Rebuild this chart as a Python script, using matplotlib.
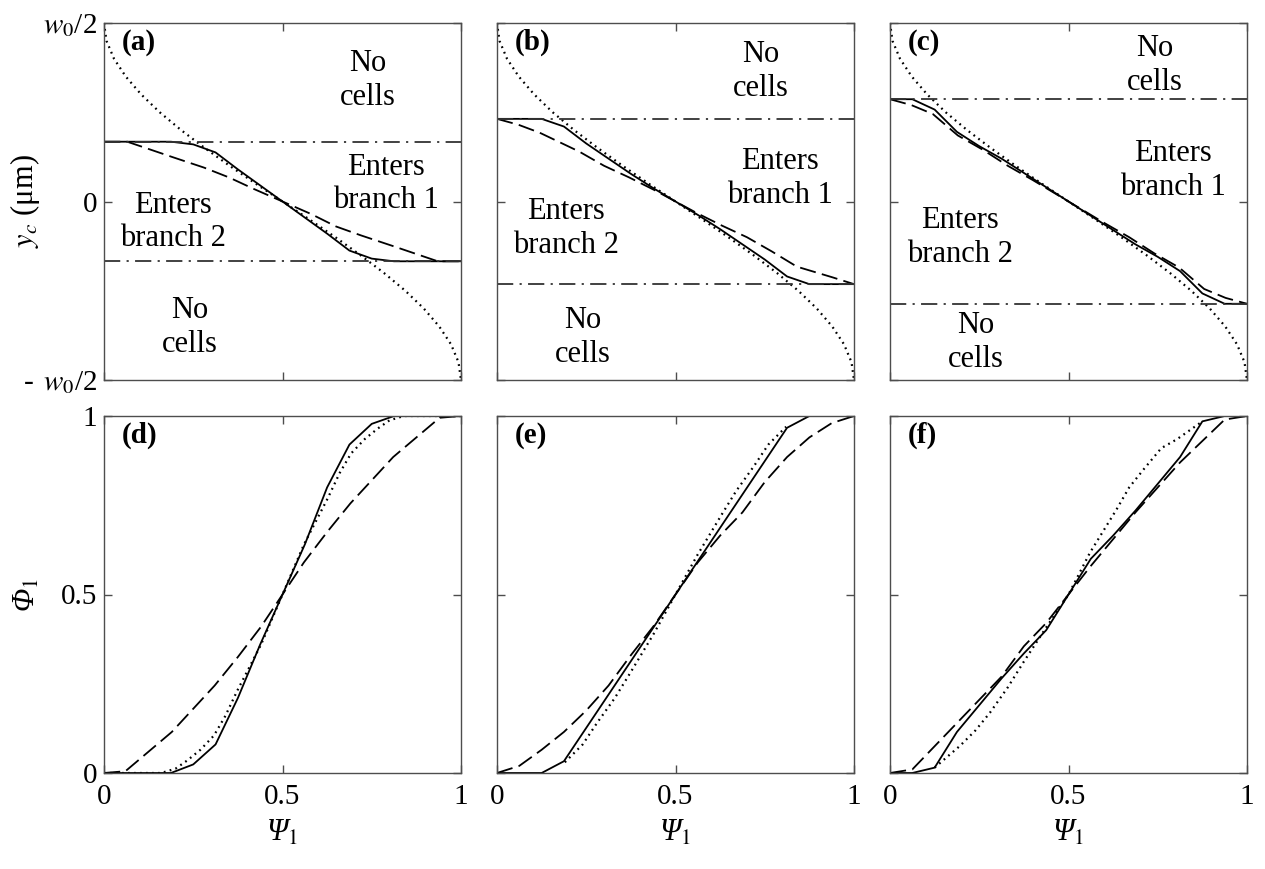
import numpy as np
import matplotlib
matplotlib.use("Agg")
import matplotlib.pyplot as plt

plt.rcParams['font.family'] = ['Liberation Serif', 'DejaVu Serif']
plt.rcParams['mathtext.fontset'] = 'stix'

# ---- top row: y_c (in units of w0/2) against Psi_1 ----
# parabolic (dotted) reference, same in all three panels
psi_dot = [0, 0.007, 0.028, 0.061, 0.104, 0.156, 0.216, 0.282, 0.352, 0.425, 0.5,
           0.575, 0.648, 0.718, 0.784, 0.844, 0.896, 0.939, 0.972, 0.993, 1]
yc_dot = [1, 0.9, 0.8, 0.7, 0.6, 0.5, 0.4, 0.3, 0.2, 0.1, 0,
          -0.1, -0.2, -0.3, -0.4, -0.5, -0.6, -0.7, -0.8, -0.9, -1]

# dash-dot limits for (a), (b), (c)
yc_limit = [0.335, 0.463, 0.573]

psi_solid_a = [0, 0.1875, 0.25, 0.3125, 0.375, 0.4375, 0.5, 0.5625, 0.625, 0.6875, 0.75, 0.8125, 1]
yc_solid_a = [0.335, 0.335, 0.32, 0.275, 0.18, 0.09, 0, -0.09, -0.18, -0.275, -0.32, -0.335, -0.335]
psi_dash_a = [0, 0.065, 0.19, 0.28, 0.35, 0.42, 0.5, 0.58, 0.65, 0.72, 0.81, 0.935, 1]
yc_dash_a = [0.335, 0.335, 0.25, 0.19, 0.135, 0.07, 0, -0.07, -0.14, -0.19, -0.25, -0.335, -0.335]

psi_solid_b = [0, 0.125, 0.1875, 0.25, 0.3125, 0.375, 0.4375, 0.5,
               0.5625, 0.625, 0.6875, 0.75, 0.8125, 0.875, 1]
yc_solid_b = [0.463, 0.463, 0.42, 0.325, 0.24, 0.155, 0.075, 0,
              -0.075, -0.155, -0.24, -0.325, -0.42, -0.463, -0.463]
psi_dash_b = [0, 0.06, 0.12, 0.23, 0.30, 0.37, 0.44, 0.5, 0.56, 0.63, 0.70, 0.77, 0.84, 0.94, 1]
yc_dash_b = [0.463, 0.43, 0.385, 0.28, 0.20, 0.135, 0.065, 0,
             -0.065, -0.135, -0.20, -0.28, -0.365, -0.425, -0.463]

psi_solid_c = [0, 0.0625, 0.125, 0.1875, 0.25, 0.3125, 0.375, 0.4375, 0.5,
               0.5625, 0.625, 0.6875, 0.75, 0.8125, 0.875, 0.9375, 1]
yc_solid_c = [0.573, 0.573, 0.515, 0.39, 0.31, 0.24, 0.16, 0.08, 0,
              -0.08, -0.16, -0.24, -0.31, -0.39, -0.515, -0.573, -0.573]
psi_dash_c = [0, 0.06, 0.12, 0.19, 0.26, 0.33, 0.40, 0.5, 0.60, 0.67, 0.74, 0.81, 0.88, 0.94, 1]
yc_dash_c = [0.573, 0.54, 0.49, 0.37, 0.29, 0.20, 0.12, 0,
             -0.12, -0.20, -0.29, -0.37, -0.49, -0.54, -0.573]

# ---- bottom row: Phi_1 against Psi_1 ----
psi_dot_d = [0, 0.16, 0.2, 0.233, 0.27, 0.308, 0.34, 0.373, 0.44, 0.5,
             0.56, 0.627, 0.66, 0.692, 0.73, 0.767, 0.8, 0.84, 1]
phi_dot_d = [0, 0, 0.012, 0.035, 0.065, 0.105, 0.16, 0.23, 0.36, 0.5,
             0.64, 0.77, 0.84, 0.895, 0.935, 0.965, 0.988, 1, 1]
psi_solid_d = [0, 0.1875, 0.25, 0.3125, 0.375, 0.4375, 0.5, 0.5625, 0.625, 0.6875, 0.75, 0.8125, 1]
phi_solid_d = [0, 0, 0.024, 0.08, 0.21, 0.36, 0.5, 0.64, 0.8, 0.92, 0.978, 1, 1]
psi_dash_d = [0, 0.06, 0.125, 0.19, 0.25, 0.31, 0.375, 0.44, 0.5,
              0.56, 0.625, 0.69, 0.75, 0.81, 0.875, 0.94, 1]
phi_dash_d = [0, 0.005, 0.06, 0.115, 0.18, 0.245, 0.325, 0.41, 0.5,
              0.59, 0.675, 0.755, 0.82, 0.885, 0.94, 0.995, 1]

psi_dot_e = [0.19, 0.24, 0.28, 0.33, 0.373, 0.439, 0.5, 0.561, 0.627, 0.67, 0.72, 0.76, 0.81]
phi_dot_e = [0.03, 0.08, 0.14, 0.21, 0.28, 0.39, 0.5, 0.61, 0.72, 0.79, 0.86, 0.92, 0.97]
psi_solid_e = [0, 0.125, 0.1875, 0.5, 0.8125, 0.875, 1]
phi_solid_e = [0, 0, 0.033, 0.5, 0.967, 1, 1]
psi_dash_e = [0, 0.0625, 0.125, 0.1875, 0.25, 0.3125, 0.375, 0.4375, 0.5,
              0.5625, 0.625, 0.6875, 0.75, 0.8125, 0.875, 0.9375, 1]
phi_dash_e = [0, 0.02, 0.065, 0.115, 0.175, 0.245, 0.33, 0.41, 0.5,
              0.59, 0.665, 0.73, 0.815, 0.885, 0.94, 0.98, 1]

psi_dot_f = [0.125, 0.196, 0.24, 0.28, 0.33, 0.373, 0.439, 0.5, 0.56, 0.635, 0.67, 0.71, 0.76, 0.804, 0.875]
phi_dot_f = [0.015, 0.076, 0.12, 0.169, 0.24, 0.309, 0.41, 0.5, 0.617, 0.739, 0.80, 0.85, 0.91, 0.935, 0.985]
psi_solid_f = [0, 0.0625, 0.125, 0.1875, 0.25, 0.3125, 0.375, 0.4375, 0.5,
               0.5625, 0.625, 0.6875, 0.75, 0.8125, 0.875, 0.9375, 1]
phi_solid_f = [0, 0, 0.015, 0.115, 0.19, 0.265, 0.335, 0.40, 0.5,
               0.60, 0.665, 0.735, 0.81, 0.885, 0.985, 1, 1]
psi_dash_f = [0, 0.0625, 0.125, 0.1875, 0.25, 0.3125, 0.375, 0.4375, 0.5,
              0.5625, 0.625, 0.6875, 0.75, 0.8125, 0.875, 0.9375, 1]
phi_dash_f = [0, 0.01, 0.075, 0.14, 0.205, 0.27, 0.355, 0.42, 0.5,
              0.58, 0.655, 0.73, 0.80, 0.87, 0.93, 0.99, 1]

top_labels = ['(a)', '(b)', '(c)']
bottom_labels = ['(d)', '(e)', '(f)']

# region text positions (data coords) per top panel
txt_nocells_top = [(0.74, 0.68), (0.74, 0.73), (0.742, 0.76)]
txt_branch1 = [(0.79, 0.098), (0.793, 0.13), (0.793, 0.176)]
txt_branch2 = [(0.193, -0.115), (0.193, -0.15), (0.196, -0.2)]
txt_nocells_bot = [(0.24, -0.705), (0.24, -0.76), (0.24, -0.79)]

top_data = [(psi_solid_a, yc_solid_a, psi_dash_a, yc_dash_a),
            (psi_solid_b, yc_solid_b, psi_dash_b, yc_dash_b),
            (psi_solid_c, yc_solid_c, psi_dash_c, yc_dash_c)]
bottom_data = [(psi_dot_d, phi_dot_d, psi_solid_d, phi_solid_d, psi_dash_d, phi_dash_d),
               (psi_dot_e, phi_dot_e, psi_solid_e, phi_solid_e, psi_dash_e, phi_dash_e),
               (psi_dot_f, phi_dot_f, psi_solid_f, phi_solid_f, psi_dash_f, phi_dash_f)]

W, H = 1265, 869
fig = plt.figure(figsize=(W / 100, H / 100), dpi=100)

lefts = [104, 497, 890]
size = 357
top_bottom = 380
bot_bottom = 773

lw = 1.3
dotted = (0, (0.8, 1.9))
dashed = (0, (9, 3.5))
dashdot = (0, (9, 3.5, 1.2, 3.5))
spine_col = '0.3'


def style_axes(ax):
    for s in ax.spines.values():
        s.set_color(spine_col)
        s.set_linewidth(1.0)
    ax.tick_params(direction='in', length=6, width=1.0, color=spine_col,
                   top=True, right=True, labelsize=21, pad=5)
    ax.tick_params(axis='x', pad=8)


for i in range(3):
    # top panel
    ax = fig.add_axes([lefts[i] / W, (H - top_bottom) / H, size / W, size / H])
    ax.plot(psi_dot, yc_dot, color='k', lw=1.6, linestyle=dotted)
    ps, ys, pd, yd = top_data[i]
    ax.plot(pd, yd, color='k', lw=lw, linestyle=dashed)
    ax.plot(ps, ys, color='k', lw=lw)
    for yl in (yc_limit[i], -yc_limit[i]):
        ax.axhline(yl, color='0.2', lw=lw, linestyle=dashdot)
    ax.set_xlim(0, 1)
    ax.set_ylim(-1, 1)
    ax.set_xticks([0, 0.5, 1])
    ax.set_yticks([-1, 0, 1])
    ax.set_xticklabels([])
    if i == 0:
        ax.set_yticklabels([r'- $\,w_0$/2', '0', r'$w_0$/2'])
        ax.set_ylabel(r'$y_c$ (μm)', fontsize=22)
        ax.yaxis.set_label_coords(-0.175, 0.5)
    else:
        ax.set_yticklabels([])
    style_axes(ax)
    kw = dict(ha='center', va='center', fontsize=22, linespacing=1.22)
    ax.text(*txt_nocells_top[i], 'No\ncells', **kw)
    ax.text(*txt_branch1[i], 'Enters\nbranch 1', **kw)
    ax.text(*txt_branch2[i], 'Enters\nbranch 2', **kw)
    ax.text(*txt_nocells_bot[i], 'No\ncells', **kw)
    ax.text(0.05, 0.945, top_labels[i], transform=ax.transAxes, ha='left',
            va='center', fontsize=21, fontweight='bold')

    # bottom panel
    ax = fig.add_axes([lefts[i] / W, (H - bot_bottom) / H, size / W, size / H])
    pdt, fdt, ps, fs, pd, fd = bottom_data[i]
    ax.plot(pdt, fdt, color='k', lw=1.6, linestyle=dotted)
    ax.plot(pd, fd, color='k', lw=lw, linestyle=dashed)
    ax.plot(ps, fs, color='k', lw=lw)
    ax.set_xlim(0, 1)
    ax.set_ylim(0, 1)
    ax.set_xticks([0, 0.5, 1])
    ax.set_yticks([0, 0.5, 1])
    ax.set_xticklabels(['0', '0.5', '1'])
    if i == 0:
        ax.set_yticklabels(['0', '0.5', '1'])
        ax.set_ylabel('Φ$_1$', fontsize=22, style='italic')
        ax.yaxis.set_label_coords(-0.175, 0.5)
    else:
        ax.set_yticklabels([])
    ax.set_xlabel('Ψ$_1$', fontsize=22, style='italic', labelpad=6)
    style_axes(ax)
    ax.text(0.05, 0.945, bottom_labels[i], transform=ax.transAxes, ha='left',
            va='center', fontsize=21, fontweight='bold')

fig.savefig('out.png', dpi=100)
